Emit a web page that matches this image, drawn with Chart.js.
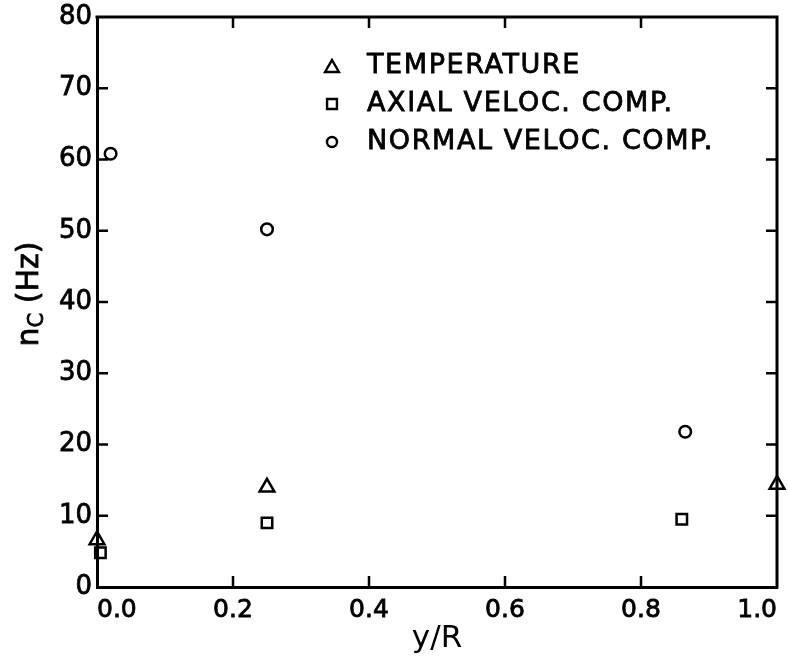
<!DOCTYPE html>
<html>
<head>
<meta charset="utf-8">
<script src="https://cdn.jsdelivr.net/npm/chart.js@4/dist/chart.umd.min.js"></script>
<style>
  html, body { margin: 0; padding: 0; background: #ffffff; }
  #wrap { width: 788px; height: 658px; }
</style>
</head>
<body>
<div id="wrap"><canvas id="c" width="788" height="658"></canvas></div>
<script>
// ---- data ----
const seriesLabels = ['TEMPERATURE', 'AXIAL VELOC. COMP.', 'NORMAL VELOC. COMP.'];
const xTemperature = [0.0, 0.25, 1.0];
const yTemperature = [6.6, 14.0, 14.4];
const xAxial = [0.005, 0.25, 0.86];
const yAxial = [4.8, 9.0, 9.5];
const xNormal = [0.02, 0.25, 0.865];
const yNormal = [60.8, 50.2, 21.8];
const xTitle = 'y/R';
const yTitleMain = 'n';
const yTitleSub = 'C';
const yTitleRest = ' (Hz)';

function pts(xs, ys) { return xs.map((x, i) => ({ x: x, y: ys[i] })); }

const FONT = 'DejaVu Sans';

const framePlugin = {
  id: 'frame',
  afterDraw(chart) {
    const ctx = chart.ctx;
    const a = chart.chartArea;
    const xs = chart.scales.x, ys = chart.scales.y;
    ctx.save();
    ctx.strokeStyle = '#000';
    ctx.lineCap = 'square';
    // top and right borders
    ctx.lineWidth = 3;
    ctx.beginPath();
    ctx.moveTo(a.left, a.top); ctx.lineTo(a.right, a.top); ctx.lineTo(a.right, a.bottom);
    ctx.stroke();
    // inward ticks
    ctx.lineWidth = 2.5;
    ctx.lineCap = 'butt';
    const tl = 11;
    xs.ticks.forEach(t => {
      if (t.value <= xs.min || t.value >= xs.max) return;
      const px = xs.getPixelForValue(t.value);
      ctx.beginPath();
      ctx.moveTo(px, a.bottom); ctx.lineTo(px, a.bottom - tl);
      ctx.moveTo(px, a.top); ctx.lineTo(px, a.top + tl);
      ctx.stroke();
    });
    ys.ticks.forEach(t => {
      if (t.value <= ys.min || t.value >= ys.max) return;
      const py = ys.getPixelForValue(t.value);
      ctx.beginPath();
      ctx.moveTo(a.left, py); ctx.lineTo(a.left + tl, py);
      ctx.moveTo(a.right, py); ctx.lineTo(a.right - tl, py);
      ctx.stroke();
    });

    // y axis title with subscript
    ctx.fillStyle = '#000';
    ctx.strokeStyle = '#000';
    ctx.lineWidth = 0.8;
    ctx.textBaseline = 'alphabetic';
    ctx.textAlign = 'left';
    const big = '30px "' + FONT + '"';
    const small = '21px "' + FONT + '"';
    ctx.font = big; const w1 = ctx.measureText(yTitleMain).width;
    const w3 = ctx.measureText(yTitleRest).width;
    ctx.font = small; const w2 = ctx.measureText(yTitleSub).width;
    const total = w1 + w2 + w3;
    ctx.translate(38, (a.top + a.bottom) / 2 - 8);
    ctx.rotate(-Math.PI / 2);
    let x0 = -total / 2;
    ctx.font = big; ctx.fillText(yTitleMain, x0, 0); ctx.strokeText(yTitleMain, x0, 0); x0 += w1;
    ctx.font = small; ctx.fillText(yTitleSub, x0, 5); ctx.strokeText(yTitleSub, x0, 5); x0 += w2;
    ctx.font = big; ctx.fillText(yTitleRest, x0, 0); ctx.strokeText(yTitleRest, x0, 0);
    ctx.restore();

    // legend inside plot area
    ctx.save();
    const lx = 332, ly0 = 66, dy = 38;
    const legendRadius = [8, 7, 5];
    chart.data.datasets.forEach((ds, i) => {
      const cy = ly0 + i * dy;
      ctx.strokeStyle = '#000';
      ctx.fillStyle = 'rgba(0,0,0,0)';
      ctx.lineWidth = 2.4;
      const style = ds.pointStyle;
      let yy = cy;
      if (style === 'triangle') yy = cy + legendRadius[i] / 4;
      if (Chart.helpers && Chart.helpers.drawPoint) {
        Chart.helpers.drawPoint(ctx, { pointStyle: style, radius: legendRadius[i], rotation: 0, borderWidth: 2.4 }, lx, yy);
      }
      ctx.fillStyle = '#000';
      ctx.lineWidth = 0.8;
      ctx.font = '27px "' + FONT + '"';
      ctx.textBaseline = 'middle';
      ctx.textAlign = 'left';
      try { ctx.letterSpacing = '1.6px'; } catch (e) {}
      ctx.fillText(ds.label, 367, cy);
      ctx.strokeText(ds.label, 367, cy);
    });
    ctx.restore();
  }
};

const common = {
  showLine: false,
  borderColor: '#000',
  backgroundColor: 'rgba(0,0,0,0)',
  pointBorderWidth: 2.5,
  clip: false
};

new Chart(document.getElementById('c'), {
  type: 'scatter',
  data: {
    datasets: [
      Object.assign({}, common, { label: seriesLabels[0], data: pts(xTemperature, yTemperature), pointStyle: 'triangle', pointRadius: 8.5 }),
      Object.assign({}, common, { label: seriesLabels[1], data: pts(xAxial, yAxial), pointStyle: 'rect', pointRadius: 7.4 }),
      Object.assign({}, common, { label: seriesLabels[2], data: pts(xNormal, yNormal), pointStyle: 'circle', pointRadius: 5.8 })
    ]
  },
  options: {
    responsive: false,
    animation: false,
    devicePixelRatio: 1,
    layout: { padding: { top: 17, right: 11, left: 0, bottom: 0 } },
    plugins: { legend: { display: false }, tooltip: { enabled: false } },
    scales: {
      x: {
        type: 'linear', position: 'bottom', min: 0, max: 1,
        grid: { display: false, drawTicks: false },
        border: { display: true, color: '#000', width: 3 },
        ticks: {
          stepSize: 0.2, color: '#000', padding: 8, maxRotation: 0, align: 'inner',
          textStrokeColor: '#000', textStrokeWidth: 0.8,
          font: { family: FONT, size: 25 },
          callback: v => Number(v).toFixed(1)
        },
        title: { display: true, text: xTitle, color: '#000', font: { family: FONT, size: 31 }, padding: { top: 0, bottom: 0 } },
        afterFit: s => { s.height = 71; s.paddingLeft = 0; s.paddingRight = 0; }
      },
      y: {
        type: 'linear', position: 'left', min: 0, max: 80,
        grid: { display: false, drawTicks: false },
        border: { display: true, color: '#000', width: 3 },
        ticks: {
          stepSize: 10, color: '#000', padding: 5,
          textStrokeColor: '#000', textStrokeWidth: 0.8,
          font: { family: FONT, size: 26 }
        },
        afterFit: s => { s.width = 97; s.paddingTop = 0; s.paddingBottom = 0; }
      }
    }
  },
  plugins: [framePlugin]
});
</script>
</body>
</html>
